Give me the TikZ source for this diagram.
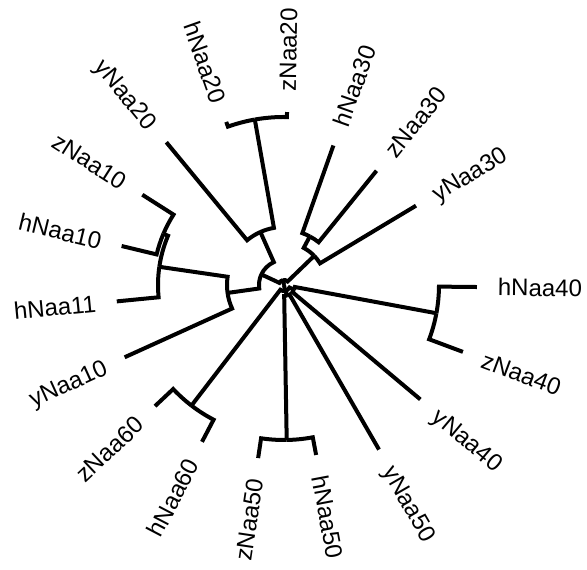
\documentclass[tikz,border=0pt]{standalone}
\usepackage{fontspec}
\setmainfont{Liberation Sans}

\begin{document}
\begin{tikzpicture}[x=1pt, y=1pt, line width=4pt,
    leaf/.style={font=\fontsize{24}{28}\selectfont, inner sep=0pt, text height=17pt, text depth=0pt}]
  \useasboundingbox (0,0) rectangle (587,570);
  \begin{scope}[shift={(284,285)}]
    \coordinate (root) at (0,0);
    \coordinate (q1) at (100:5);
    \coordinate (q2) at (-80:6);
    \draw (root) -- (q1);
    \draw (root) -- (q2);

    % inner nodes: name/angle/radius/parent/parent angle/parent radius
    \foreach \c/\ca/\cr/\p/\pa/\pr in {
        ab/155/25/q1/100/5,
        c1/44/42/q1/100/5,
        c2/62/55/c1/44/42,
        b1/114/58/ab/155/25,
        b2/100/168/b1/114/58,
        a1/188/57/ab/155/25,
        a2/171.7/126/a1/188/57,
        a3/157/131/a2/171.7/126,
        dg/-25/11/q2/-80/6,
        d1/-10.5/155/dg/-25/11,
        eg/-75/11/q2/-80/6,
        e1/-89/155/eg/-75/11,
        f1/-127.5/152/q2/-80/6} {
      \coordinate (\c) at (\ca:\cr);
      \draw (\p) arc[start angle=\pa, end angle=\ca, radius=\pr pt] -- (\c);
    }

    % leaves on the right
    \foreach \c/\ca/\cr/\p/\pa/\pr/\txt in {
        h40/-0.6/193/d1/-10.5/155/hNaa40,
        z40/-20.5/191/d1/-10.5/155/zNaa40,
        y40/-40/178/dg/-25/11/yNaa40,
        y50/-60/190/eg/-75/11/yNaa50,
        h50/-79.3/173/e1/-89/155/hNaa50,
        z20/89/173/b2/100/168/zNaa20,
        h30/70.5/148/c2/62/55/hNaa30,
        z30/51/147/c2/62/55/zNaa30,
        y30/31/154/c1/44/42/yNaa30} {
      \coordinate (\c) at (\ca:\cr);
      \draw (\p) arc[start angle=\pa, end angle=\ca, radius=\pr pt] -- (\c);
      \node[leaf, anchor=west, rotate=\ca] (t\c) at (\ca:\cr+19) {\txt};
    }

    % leaves on the left
    \foreach \c/\ca/\cr/\p/\pa/\pr/\txt in {
        z50/-98.5/175/e1/-89/155/zNaa50,
        h60/-117.6/177/f1/-127.5/152/hNaa60,
        z60/-136.8/177/f1/-127.5/152/zNaa60,
        y10/204.4/175/a1/188/57/yNaa10,
        h11/185.6/168/a2/171.7/126/hNaa11,
        h10/166.5/167/a3/157/131/hNaa10,
        z10/147.5/168/a3/157/131/zNaa10,
        y20/129.5/185/b1/114/58/yNaa20,
        h20/109.5/173/b2/100/168/hNaa20} {
      \coordinate (\c) at (\ca:\cr);
      \draw (\p) arc[start angle=\pa, end angle=\ca, radius=\pr pt] -- (\c);
      \node[leaf, anchor=east, rotate={\ca+180}] (t\c) at (\ca:\cr+19) {\txt};
    }
  \end{scope}
\end{tikzpicture}
\end{document}
